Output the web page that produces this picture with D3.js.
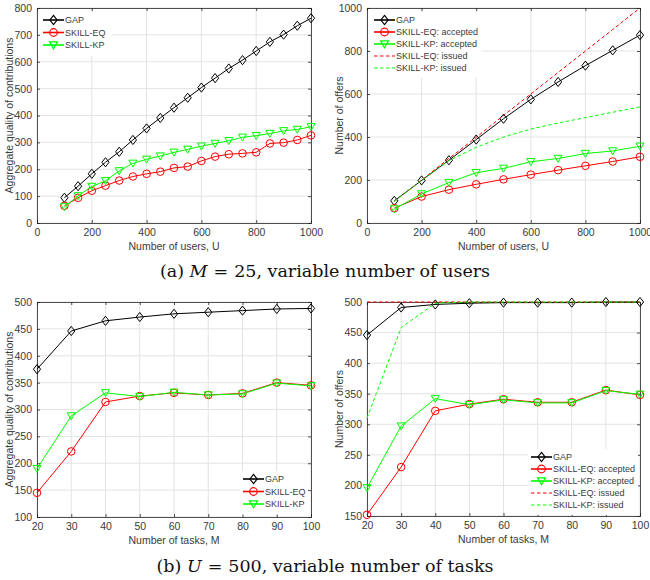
<!DOCTYPE html>
<html>
<head>
<meta charset="utf-8">
<script src="https://cdn.jsdelivr.net/npm/d3@7"></script>
<style>
  body { margin: 0; background: #fff; }
  svg { display: block; }
</style>
</head>
<body>
<script>
// ---- data ----
// (a) M = 25, variable number of users
const usersA = [100,150,200,250,300,350,400,450,500,550,600,650,700,750,800,850,900,950,1000];
const gapQualityU = [94,137,183,226,265,309,352,391,429,466,504,539,575,606,640,674,701,734,762];
const eqQualityU  = [64,94,120,139,158,173,183,191,205,210,231,247,256,259,263,296,299,309,326];
const kpQualityU  = [60,101,136,157,194,222,237,249,263,274,286,296,306,319,325,333,343,348,358];

const usersB = [100,200,300,400,500,600,700,800,900,1000];
const gapOffersU  = [103,198,292,388,485,575,656,732,803,874];
const eqAcceptedU = [69,123,155,180,203,225,246,266,286,308];
const kpAcceptedU = [65,135,188,234,254,285,300,323,335,357];
const eqIssuedU   = [100,200,300,398,500,600,700,800,900,1000];
const kpIssuedU   = [100,198,290,352,400,437,465,490,515,540];

// (b) U = 500, variable number of tasks
const tasks = [20,30,40,50,60,70,80,90,100];
const gapQualityM = [375,446,465,472,478,481,484,487,488];
const eqQualityM  = [145,222,314,325,331,327,330,350,345];
const kpQualityM  = [190,288,331,324,332,327,329,349,344];

const gapOffersM  = [446,491,496,498,499,499,499,500,500];
const eqAcceptedM = [152,230,322,333,341,336,336,356,348];
const kpAcceptedM = [196,297,342,332,340,335,335,355,349];
const eqIssuedM   = [500,500,500,500,500,500,500,500,500];
const kpIssuedM   = [310,458,498,500,500,500,500,500,500];

const ticksUsers = [0,200,400,600,800,1000];
const ticksTasks = [20,30,40,50,60,70,80,90,100];

// ---- page ----
const W = 650, H = 580;
const svg = d3.select("body").append("svg").attr("width", W).attr("height", H)
  .style("font-family", "'Liberation Sans', Arial, sans-serif");

const axisColor = "#262626";
const labelColor = "#3a3a3a";
const gridColor = "#e3e3e3";

// marker shapes
function markerPath(kind) {
  if (kind === "diamond") return "M0,-4.6L3.6,0L0,4.6L-3.6,0Z";
  if (kind === "triangle") return "M-4,-3.2L4,-3.2L0,3.8Z";
  return null;
}

function drawPanel(p) {
  const g = svg.append("g");
  const x = d3.scaleLinear().domain(p.xDomain).range([p.left, p.right]);
  const y = d3.scaleLinear().domain(p.yDomain).range([p.bottom, p.top]);

  // grid
  g.selectAll(".vg").data(p.xTicks).enter().append("line")
    .attr("x1", d => x(d)).attr("x2", d => x(d))
    .attr("y1", p.top).attr("y2", p.bottom)
    .attr("stroke", gridColor).attr("stroke-width", 1);
  g.selectAll(".hg").data(p.yTicks).enter().append("line")
    .attr("x1", p.left).attr("x2", p.right)
    .attr("y1", d => y(d)).attr("y2", d => y(d))
    .attr("stroke", gridColor).attr("stroke-width", 1);

  // axes (ticks inside, box all round)
  const tk = 3;
  g.append("g").attr("transform", "translate(0," + p.bottom + ")")
    .call(d3.axisBottom(x).tickValues(p.xTicks).tickSize(-tk).tickPadding(6).tickFormat(d3.format("d")));
  g.append("g").attr("transform", "translate(" + p.left + ",0)")
    .call(d3.axisLeft(y).tickValues(p.yTicks).tickSize(-tk).tickPadding(5).tickFormat(d3.format("d")));
  g.append("g").attr("transform", "translate(0," + p.top + ")")
    .call(d3.axisTop(x).tickValues(p.xTicks).tickSize(-tk).tickFormat(""));
  g.append("g").attr("transform", "translate(" + p.right + ",0)")
    .call(d3.axisRight(y).tickValues(p.yTicks).tickSize(-tk).tickFormat(""));
  g.selectAll(".domain").attr("stroke", axisColor).attr("stroke-width", 0.8);
  g.selectAll(".tick line").attr("stroke", axisColor).attr("stroke-width", 0.8);
  g.selectAll(".tick text").attr("fill", labelColor).style("font-size", "10.5px")
    .style("font-family", "'Liberation Sans', Arial, sans-serif");

  // axis labels
  g.append("text").attr("x", (p.left + p.right) / 2).attr("y", p.bottom + 27)
    .attr("text-anchor", "middle").attr("fill", labelColor).style("font-size", "10.5px")
    .text(p.xLabel);
  g.append("text")
    .attr("transform", "translate(" + (p.left - 24) + "," + ((p.top + p.bottom) / 2) + ") rotate(-90)")
    .attr("text-anchor", "middle").attr("fill", labelColor).style("font-size", "10.5px")
    .text(p.yLabel);

  // series
  const line = d3.line().x(d => x(d[0])).y(d => y(d[1]));
  p.series.forEach(s => {
    const pts = p.xs.map((v, i) => [v, s.values[i]]);
    g.append("path").datum(pts).attr("d", line)
      .attr("fill", "none").attr("stroke", s.color).attr("stroke-width", 1)
      .attr("stroke-dasharray", s.dashed ? "3.5,2.5" : null);
    if (s.marker) {
      const m = g.selectAll(null).data(pts).enter();
      if (s.marker === "circle") {
        m.append("circle").attr("cx", d => x(d[0])).attr("cy", d => y(d[1])).attr("r", 3.8)
          .attr("fill", "none").attr("stroke", s.color).attr("stroke-width", 1);
      } else {
        m.append("path").attr("d", markerPath(s.marker))
          .attr("transform", d => "translate(" + x(d[0]) + "," + y(d[1]) + ")")
          .attr("fill", "none").attr("stroke", s.color).attr("stroke-width", 1);
      }
    }
  });

  // legend
  const L = p.legend;
  const lg = g.append("g");
  lg.append("rect").attr("x", L.x).attr("y", L.y).attr("width", L.w)
    .attr("height", L.rowH * p.series.length + 6).attr("fill", "#fff");
  p.series.forEach((s, i) => {
    const cy = L.y + 8 + i * L.rowH;
    const x0 = L.x + 3, x1 = L.x + 24;
    lg.append("line").attr("x1", x0).attr("x2", x1).attr("y1", cy).attr("y2", cy)
      .attr("stroke", s.color).attr("stroke-width", s.dashed ? 1 : 1.6)
      .attr("stroke-dasharray", s.dashed ? "3.5,2.5" : null);
    const mx = (x0 + x1) / 2;
    if (s.marker === "circle") {
      lg.append("circle").attr("cx", mx).attr("cy", cy).attr("r", 3.8)
        .attr("fill", "none").attr("stroke", s.color).attr("stroke-width", 1.2);
    } else if (s.marker) {
      lg.append("path").attr("d", markerPath(s.marker))
        .attr("transform", "translate(" + mx + "," + cy + ")")
        .attr("fill", "none").attr("stroke", s.color).attr("stroke-width", 1.2);
    }
    lg.append("text").attr("x", x1 + 1).attr("y", cy + 3.3)
      .attr("fill", labelColor).style("font-size", "9px").text(s.name);
  });
}

drawPanel({
  left: 37, right: 311, top: 8, bottom: 223,
  xDomain: [0, 1000], yDomain: [0, 800],
  xTicks: ticksUsers, yTicks: d3.range(0, 801, 100),
  xLabel: "Number of users, U", yLabel: "Aggregate quality of contributions",
  xs: usersA,
  series: [
    { name: "GAP", values: gapQualityU, color: "#000000", marker: "diamond" },
    { name: "SKILL-EQ", values: eqQualityU, color: "#ff0000", marker: "circle" },
    { name: "SKILL-KP", values: kpQualityU, color: "#00ff00", marker: "triangle" }
  ],
  legend: { x: 40, y: 12, w: 72, rowH: 12.5 }
});

drawPanel({
  left: 367, right: 640, top: 8, bottom: 223,
  xDomain: [0, 1000], yDomain: [0, 1000],
  xTicks: ticksUsers, yTicks: d3.range(0, 1001, 200),
  xLabel: "Number of users, U", yLabel: "Number of offers",
  xs: usersB,
  series: [
    { name: "GAP", values: gapOffersU, color: "#000000", marker: "diamond" },
    { name: "SKILL-EQ: accepted", values: eqAcceptedU, color: "#ff0000", marker: "circle" },
    { name: "SKILL-KP: accepted", values: kpAcceptedU, color: "#00ff00", marker: "triangle" },
    { name: "SKILL-EQ: issued", values: eqIssuedU, color: "#ff0000", dashed: true },
    { name: "SKILL-KP: issued", values: kpIssuedU, color: "#00ff00", dashed: true }
  ],
  legend: { x: 371, y: 12, w: 110, rowH: 12 }
});

drawPanel({
  left: 37, right: 311, top: 302, bottom: 517,
  xDomain: [20, 100], yDomain: [100, 500],
  xTicks: ticksTasks, yTicks: d3.range(100, 501, 50),
  xLabel: "Number of tasks, M", yLabel: "Aggregate quality of contributions",
  xs: tasks,
  series: [
    { name: "GAP", values: gapQualityM, color: "#000000", marker: "diamond" },
    { name: "SKILL-EQ", values: eqQualityM, color: "#ff0000", marker: "circle" },
    { name: "SKILL-KP", values: kpQualityM, color: "#00ff00", marker: "triangle" }
  ],
  legend: { x: 240, y: 471, w: 68, rowH: 12.5 }
});

drawPanel({
  left: 367, right: 640, top: 302, bottom: 516,
  xDomain: [20, 100], yDomain: [150, 500],
  xTicks: ticksTasks, yTicks: d3.range(150, 501, 50),
  xLabel: "Number of tasks, M", yLabel: "Number of offers",
  xs: tasks,
  series: [
    { name: "GAP", values: gapOffersM, color: "#000000", marker: "diamond" },
    { name: "SKILL-EQ: accepted", values: eqAcceptedM, color: "#ff0000", marker: "circle" },
    { name: "SKILL-KP: accepted", values: kpAcceptedM, color: "#00ff00", marker: "triangle" },
    { name: "SKILL-EQ: issued", values: eqIssuedM, color: "#ff0000", dashed: true },
    { name: "SKILL-KP: issued", values: kpIssuedM, color: "#00ff00", dashed: true }
  ],
  legend: { x: 528, y: 449, w: 110, rowH: 12 }
});

// captions
function caption(y, label, sym, rest) {
  const t = svg.append("text").attr("x", W / 2).attr("y", y).attr("text-anchor", "middle")
    .style("font-family", "'DejaVu Serif', 'Liberation Serif', serif").style("font-size", "17.5px")
    .attr("fill", "#111");
  t.append("tspan").text(label + " ");
  t.append("tspan").style("font-style", "italic").text(sym);
  t.append("tspan").attr("dx", 6).text("=");
  t.append("tspan").attr("dx", 6).text(rest);
}
caption(277, "(a)", "M", "25, variable number of users");
caption(572, "(b)", "U", "500, variable number of tasks");
</script>
</body>
</html>
